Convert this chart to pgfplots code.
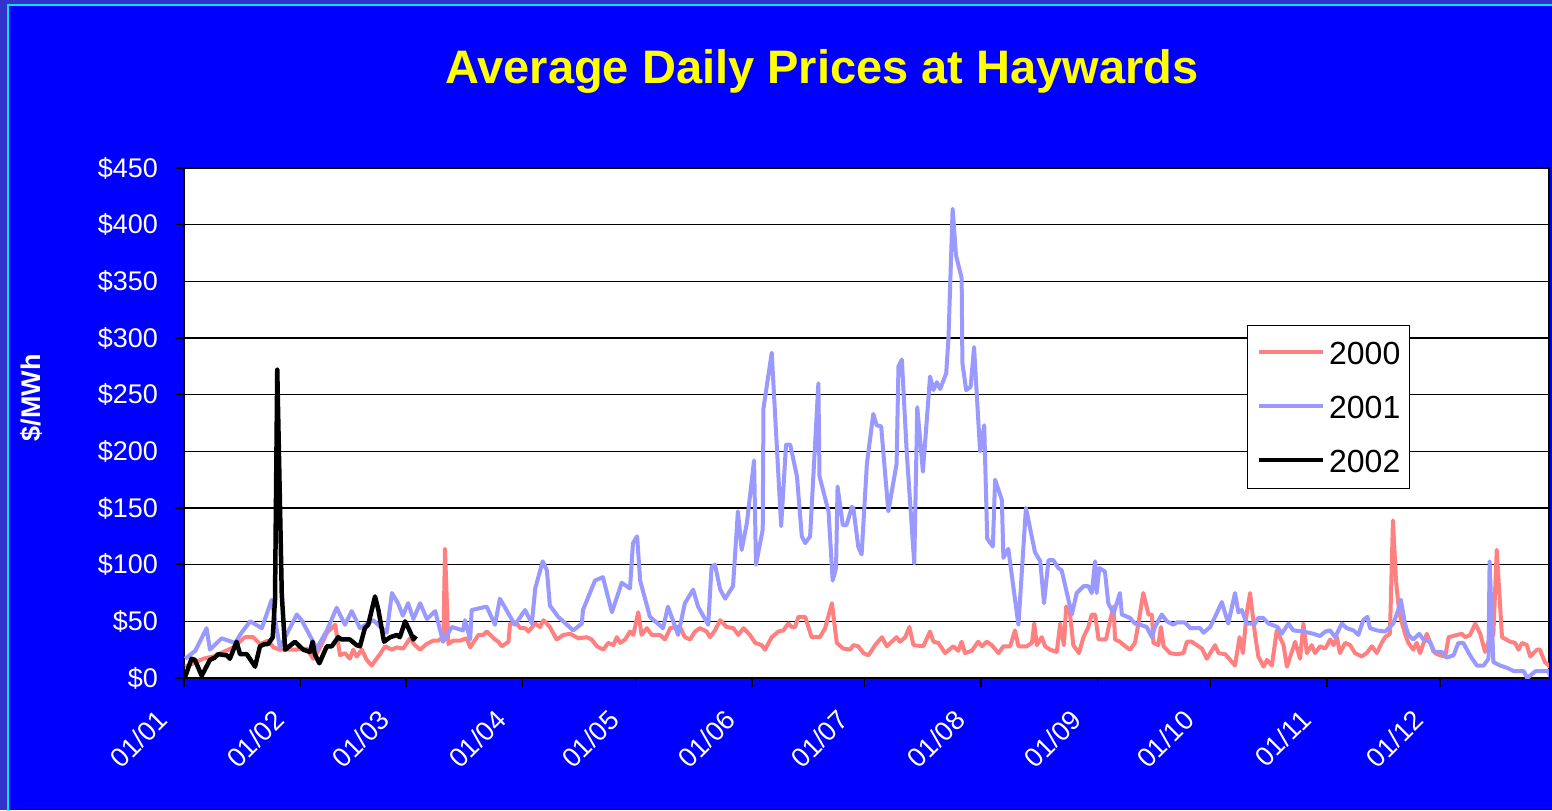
\documentclass[border=0pt]{standalone}
\usepackage{fontspec}
\setmainfont{Liberation Sans}
\usepackage{pgfplots}
\pgfplotsset{compat=1.18}
\definecolor{outerc}{RGB}{51,51,204}
\definecolor{bgblue}{RGB}{0,0,255}
\definecolor{framecyan}{RGB}{0,230,255}
\definecolor{c2000}{RGB}{255,128,128}
\definecolor{c2001}{RGB}{153,153,255}
\definecolor{ttl}{RGB}{255,255,0}
\begin{document}
\begin{tikzpicture}
\fill[outerc] (0,0) rectangle (776pt,405pt);
\fill[bgblue] (4pt,0) rectangle (776pt,402.5pt);
\draw[framecyan, line width=1pt] (4pt,-1pt) -- (4pt,402.5pt) -- (777pt,402.5pt);
\node[text=ttl, font=\bfseries\fontsize{23.5pt}{28pt}\selectfont] at (411pt,369.5pt) {Average Daily Prices at Haywards};
\node[text=white, rotate=90, font=\bfseries\fontsize{13.5pt}{16pt}\selectfont] at (15.5pt,206pt) {\$/MWh};
\begin{axis}[
  at={(92pt,66pt)}, anchor=south west,
  scale only axis, width=682.5pt, height=255pt,
  xmin=0, xmax=363, ymin=0, ymax=450,
  axis background/.style={fill=white},
  axis line style={black, line width=0.7pt},
  xtick={0,31,59,90,120,151,181,212,243,273,304,334},
  xticklabels={\mbox{01/01},\mbox{01/02},\mbox{01/03},\mbox{01/04},\mbox{01/05},\mbox{01/06},\mbox{01/07},\mbox{01/08},\mbox{01/09},\mbox{01/10},\mbox{01/11},\mbox{01/12}},
  ytick={0,50,...,450},
  yticklabels={\mbox{\$0},\mbox{\$50},\mbox{\$100},\mbox{\$150},\mbox{\$200},\mbox{\$250},\mbox{\$300},\mbox{\$350},\mbox{\$400},\mbox{\$450}},
  tick align=outside, xtick pos=bottom, ytick pos=left,
  major tick length=4.5pt,
  tick style={black, line width=0.7pt},
  ymajorgrids, grid style={black, line width=0.7pt},
  ticklabel style={text=white, font=\fontsize{13.5pt}{16pt}\selectfont},
  yticklabel style={xshift=-5pt},
  xticklabel style={xshift=-10.5pt, yshift=-14pt, rotate=45, anchor=east, inner sep=0pt},
  legend style={at={(0.7788,0.6922)}, anchor=north west, draw=black, line width=0.6pt, fill=white,
    font=\fontsize{16pt}{19pt}\selectfont, inner xsep=4.5pt, inner ysep=8pt,
    nodes={inner sep=0pt, text height=11.5pt, text depth=0pt}, row sep=15.5pt, column sep=2pt},
  legend cell align=left,
  legend image code/.code={\draw[#1] (0pt,0.5pt) -- (32pt,0.5pt);},
  every axis plot/.append style={line join=round},
]
\addplot[c2000, line width=2pt] coordinates {
(0.3,10)(2.5,13)(5.1,17)(7.8,19)(10.5,23)(13.1,27)(16.2,36)(18.4,36)(20.2,30)(22.4,33)(23.8,27)(25.5,25)(27.3,25)(29.5,25)(32.6,26)(34.4,17)(36.2,27)(38.0,40)(40.2,47)(41.5,20)(42.8,22)(44.1,17)(45.0,25)(45.9,19)(47.3,25)(48.6,16)(49.9,11)(52.1,21)(53.5,28)(55.2,25)(56.6,27)(58.3,26)(60.1,35)(61.4,29)(62.8,25)(64.5,30)(66.3,33)(67.6,33)(69.0,36)(69.4,114)(70.3,30)(71.6,33)(73.4,33)(75.2,35)(76.1,27)(78.3,38)
(79.6,38)(80.5,41)(82.7,34)(83.6,32)(84.5,28)(86.3,32)(86.7,48)(88.5,48)(89.4,44)(90.7,44)(91.6,41)(93.4,48)(94.7,45)(95.6,51)(97.3,45)(99.1,34)(100.9,38)(102.7,39)(104.9,35)(107.1,36)(108.4,34)(109.8,28)(111.5,25)(112.8,31)(114.2,29)(115.1,36)(116.0,31)(117.3,34)(118.6,41)(119.5,38)(120.8,58)(121.7,38)(123.1,44)(124.4,38)(126.6,38)(127.9,34)(129.3,44)(130.6,45)(131.9,45)(133.2,36)(134.6,34)(135.9,41)(137.2,44)(139.0,41)(139.9,36)(141.2,42)(142.6,51)(144.3,45)(146.1,44)(147.4,38)(148.8,44)(150.5,38)(151.9,31)(153.6,29)(154.5,25)(156.3,36)(158.1,41)(159.4,42)(160.7,48)(161.6,45)(162.5,45)(163.4,54)(165.2,54)(166.9,36)(169.1,36)(170.5,44)(172.3,66)(173.6,31)(175.3,26)(177.1,25)
(178.0,29)(179.3,28)(180.7,22)(182.0,20)(183.8,29)(185.6,36)(186.9,28)(188.2,32)(189.5,36)(190.4,32)(191.8,36)(192.9,45)(194.0,29)(196.6,28)(198.4,41)(199.3,32)(200.6,31)(202.4,22)(204.6,28)(205.9,24)(206.8,32)(207.7,22)(209.5,24)(211.2,32)(212.2,28)(213.5,32)(214.8,29)(216.6,22)
(217.9,28)(219.7,28)(221.0,42)(221.9,28)(224.1,28)(225.5,31)(226.1,48)(226.8,29)(228.1,36)(229.0,28)(230.3,25)(232.1,23)(233.0,48)(234.0,29)(234.6,63)(235.6,57)(236.5,29)(238.0,22)(239.2,36)(240.5,45)(241.4,56)(242.3,56)(243.2,34)(245.2,34)(246.3,51)(247.2,63)(247.6,34)(248.9,32)(250.3,28)(251.6,25)(252.9,31)(253.8,48)(255.1,75)(256.5,56)(257.4,56)(257.8,31)(259.1,29)(259.8,45)(260.5,28)(262.2,22)(264.0,21)(265.8,22)(266.7,32)(268.0,32)(269.3,29)(270.7,26)(272.0,17)(274.2,29)(275.1,22)(276.9,21)(278.2,16)(279.5,11)(280.7,36)(281.6,22)(282.6,57)(283.5,75)(284.8,39)(285.7,19)(287.1,10)(288.0,16)(289.3,11)(290.6,42)(292.4,29)(293.3,10)(295.5,32)(296.8,17)
(297.7,48)(298.6,22)(299.9,29)(300.8,22)(302.1,28)(303.5,26)(304.8,34)(305.7,29)(306.6,36)(307.4,22)(308.8,31)(310.1,29)(311.4,22)(313.2,19)(314.5,22)(315.9,28)(317.2,22)(318.5,31)(319.4,36)(320.7,39)(321.5,139)(322.3,86)(323.2,57)(324.7,39)(325.6,31)(326.9,25)(327.8,31)(328.7,22)(330.5,39)(331.4,31)(332.7,22)(334.0,20)(335.4,19)(336.3,36)(338.5,38)(339.8,39)(340.7,36)(342.0,38)(343.4,48)(344.7,39)(346.0,23)(347.3,36)(348.2,38)(349.1,113)(350.5,36)(352.7,32)(354.0,31)(354.9,25)(355.8,31)(357.1,29)(358.0,19)(359.8,25)(360.6,25)(361.9,14)(363.3,10)
};
\addlegendentry{2000}
\addplot[c2001, line width=2pt] coordinates {
(0.3,17)(3.0,24)(6.0,44)(6.9,25)(10.0,35)(13.6,31)(15.3,40)(17.6,50)(20.7,44)(23.3,69)(25.5,27)(30.0,56)(31.3,51)(35.3,26)(38.0,42)(40.6,62)(42.8,47)(44.6,59)(46.8,44)(50.3,51)(53.9,40)(55.3,75)(56.9,66)(58.2,55)(59.6,66)(61.0,52)(62.8,66)(64.6,52)(66.8,59)(68.9,32)(71.2,45)
(74.2,42)(74.7,51)(76.1,34)(76.5,60)(80.5,63)(82.7,47)(84.0,70)(88.0,47)(90.7,60)(92.5,48)(93.4,79)(95.4,103)(96.5,95)(97.3,64)(99.5,54)(103.5,42)(105.8,48)(106.1,60)(109.3,86)(111.4,89)(113.8,58)(116.4,84)(118.6,79)(119.4,119)(120.5,125)(121.3,86)(123.9,54)(127.4,44)(128.7,63)(131.4,38)(133.2,66)(135.4,78)(136.7,63)(139.4,47)(140.3,98)(141.2,100)(142.6,78)(143.9,70)(146.0,81)(147.3,147)(148.3,113)(149.7,137)(151.6,192)(152.1,100)(153.9,131)(154.1,238)(156.3,287)(158.8,134)(160.1,206)(161.2,206)(163.0,178)(164.3,125)(165.2,119)(166.5,125)(168.7,260)(169.0,178)(171.4,147)(172.5,86)(173.4,97)(173.8,169)(175.2,135)(176.2,135)(177.6,151)(178.0,150)(179.3,116)(180.2,109)(181.6,189)(183.3,233)(184.2,223)(185.4,222)(187.3,147)(189.5,189)(190.0,275)(190.9,281)(192.2,199)(194.2,101)(195.0,239)(196.5,182)(198.4,266)(199.3,254)(200.2,261)(201.1,255)(202.7,269)(203.3,300)(204.4,414)(205.3,373)(206.8,353)(207.0,278)(208.0,254)(209.2,257)(210.1,292)(211.7,200)(212.8,223)(213.6,123)(215.1,116)(215.7,175)(217.5,157)(217.9,106)(219.2,114)(221.9,47)(223.9,150)(226.3,111)(227.7,103)(228.7,66)(229.9,104)(231.2,104)(232.5,97)(233.4,95)(236.1,56)(237.4,75)(239.2,81)(240.5,81)(241.4,75)(242.3,103)(242.7,75)(243.4,97)(244.9,94)(245.8,66)(247.2,57)(248.9,75)(249.4,56)(251.6,53)(252.9,48)(254.3,47)(256.0,45)(257.4,36)(258.2,45)(260.0,56)(261.4,50)(263.1,47)(264.0,49)(266.2,49)(267.6,44)(270.2,44)(271.1,40)(272.9,45)(274.2,54)(276.0,67)(277.7,48)(279.5,75)(280.4,58)(281.3,60)(282.6,48)(284.8,48)(285.7,53)(287.0,53)(288.4,48)(289.3,47)(290.8,45)(291.9,39)(293.7,48)(295.0,42)(297.7,41)(300.4,39)(302.1,37)(303.5,41)(304.8,42)(306.1,36)(307.9,48)(309.2,44)(311.0,42)(312.3,38)(313.6,51)(314.7,54)(315.4,44)(317.2,42)(319.4,41)(320.3,44)(321.6,48)(323.0,61)(323.6,69)(324.7,48)(325.6,38)(326.9,34)(328.5,39)(329.6,34)(331.4,32)(332.3,23)(334.5,23)(335.8,18)(337.6,20)(338.9,31)(340.2,31)(342.0,20)(343.8,11)(345.6,11)(346.9,17)(347.2,103)(348.2,14)(350.0,11)(351.8,9)(353.7,6)(356.3,6)(357.2,0)(359.4,6)(362.9,6)(363.3,1)
};
\addlegendentry{2001}
\addplot[black, line width=2.25pt] coordinates {
(0.3,1)(2.0,17)(2.9,16)(4.7,2)(6.9,16)(8.2,18)(9.1,21)(11.4,20)(12.2,17)(14.0,32)(14.9,21)(16.7,21)(18.9,10)(20.2,28)(21.5,30)(22.4,30)(23.6,36)(24.2,69)(24.8,272)(26.0,74)(26.9,25)(29.5,32)(31.7,25)(33.5,23)(34.2,32)(34.8,21)(36.0,13)(38.0,28)(39.3,28)(41.0,36)(41.9,34)(44.1,34)(45.9,29)(46.8,28)(48.1,44)(49.0,47)(50.8,72)(51.7,60)(53.2,32)(54.8,36)(56.6,38)(57.4,36)(58.8,50)(60.1,41)(61.0,34)(61.7,37)
};
\addlegendentry{2002}
\end{axis}
\pgfresetboundingbox
\path[use as bounding box] (0,0) rectangle (776pt,405pt);
\end{tikzpicture}
\end{document}
